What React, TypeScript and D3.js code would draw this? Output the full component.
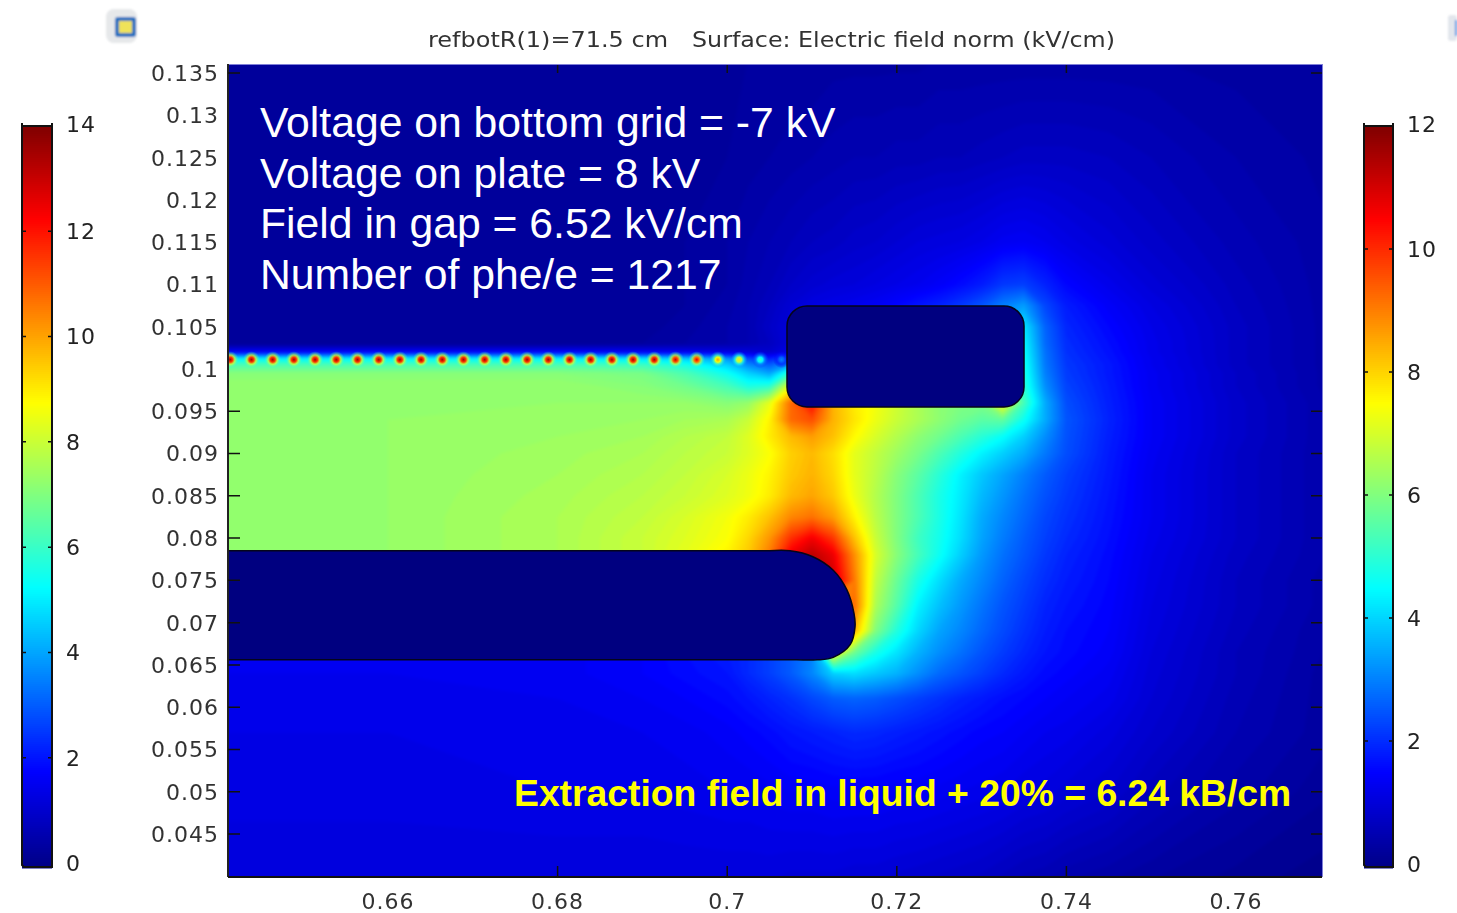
import React, { useMemo } from "react";
import * as d3 from "d3";

const titleLeft = "refbotR(1)=71.5 cm";
const titleRight = "Surface: Electric field norm (kV/cm)";
const noteLines = ["Voltage on bottom grid = -7 kV", "Voltage on plate = 8 kV", "Field in gap = 6.52 kV/cm", "Number of phe/e = 1217"];
const noteYellow = "Extraction field in liquid + 20% = 6.24 kB/cm";

const xTickLabels = [0.66, 0.68, 0.7, 0.72, 0.74, 0.76];
const xTickMarks = [0.68, 0.7, 0.72, 0.74];
const yTickLabels = [0.135, 0.13, 0.125, 0.12, 0.115, 0.11, 0.105, 0.1, 0.095, 0.09, 0.085, 0.08, 0.075, 0.07, 0.065, 0.06, 0.055, 0.05, 0.045];
const yTickMarks = [0.135, 0.095, 0.09, 0.085, 0.08, 0.075, 0.07, 0.065, 0.06, 0.055, 0.05, 0.045];
const leftBarTicks = [0, 2, 4, 6, 8, 10, 12, 14];
const rightBarTicks = [0, 2, 4, 6, 8, 10, 12];

const fieldX = [0.64, 0.66, 0.68, 0.69, 0.695, 0.7, 0.7025, 0.705, 0.7075, 0.71, 0.7125, 0.715, 0.7175, 0.72, 0.7225, 0.725, 0.7275, 0.73, 0.7325, 0.735, 0.7375, 0.74, 0.745, 0.75, 0.76, 0.772];
const fieldY = [0.137, 0.125, 0.115, 0.11, 0.1075, 0.105, 0.103, 0.102, 0.1012, 0.1005, 0.0995, 0.098, 0.096, 0.094, 0.092, 0.09, 0.0875, 0.085, 0.0825, 0.08, 0.078, 0.075, 0.072, 0.069, 0.0665, 0.064, 0.061, 0.057, 0.05, 0.0395];
const fieldValues = [
  [.2,.2,.2,.2,.25,.25,.3,.3,.3,.3,.35,.35,.35,.35,.35,.4,.4,.4,.4,.4,.4,.4,.4,.4,.35,.3],
  [.2,.2,.2,.2,.25,.3,.35,.4,.45,.5,.55,.6,.6,.65,.65,.7,.7,.75,.8,.85,.85,.85,.8,.7,.5,.35],
  [.2,.2,.2,.25,.3,.4,.5,.6,.7,.8,.85,.95,1,1.1,1.2,1.25,1.3,1.4,1.55,1.6,1.5,1.35,1.15,.95,.65,.4],
  [.2,.2,.2,.25,.3,.4,.55,.7,.9,1.05,1.15,1.2,1.3,1.4,1.5,1.65,1.85,2.1,2.5,2.6,2.2,1.8,1.45,1.15,.75,.4],
  [.2,.2,.2,.25,.3,.45,.6,.8,1.1,1.3,1.4,1.5,1.6,1.8,2,2.2,2.5,2.9,3.5,3.9,2.7,2.1,1.65,1.3,.8,.4],
  [.2,.2,.2,.25,.35,.5,.6,.9,1.2,1.4,1.5,1.6,1.8,2,2.4,2.8,3.2,3.6,4.2,4.9,3.1,2.25,1.8,1.4,.85,.4],
  [.2,.2,.2,.3,.4,.5,.6,.8,1.2,1.5,1.6,1.8,2,2.4,2.8,3.2,3.6,4,4.5,5.2,3.2,2.35,1.9,1.45,.85,.4],
  [1.7,1.7,1.7,1.6,1.5,1.3,1.2,1,1.4,1.6,1.8,2,2.2,2.6,3,3.4,3.8,4.2,4.7,5.3,3.3,2.4,1.95,1.45,.85,.4],
  [5.2,5.2,5.2,5,4.6,3.8,2.8,2.2,3,3,3,3,3,3,3.2,3.6,4,4.4,5,5.4,3.35,2.45,2,1.5,.85,.4],
  [6.3,6.3,6.3,6.1,5.6,4.6,3.6,3,4,4,4,4,4,4,4,4,4.2,4.6,5.2,5.5,3.4,2.5,2.05,1.5,.85,.4],
  [7.1,7.1,7.1,6.9,6.3,5.4,4.6,4,6,6,6,6,6,6,6,6,6,6,6,5.6,3.5,2.55,2.05,1.55,.9,.4],
  [7.3,7.3,7.3,7.1,6.8,6.2,5.6,5.8,8.5,9,9,9,8.5,8,7.5,7.2,7,7,7,5.8,3.7,2.65,2.1,1.55,.9,.4],
  [7.3,7.3,7.3,7.3,7.3,7.1,7.3,8.4,10.8,12.2,9.8,9,8.6,8.1,7.6,7.2,7,7,8.8,6.2,4.1,2.8,2.15,1.6,.95,.45],
  [7.3,7.3,7.35,7.4,7.5,7.6,8,8.9,10.8,11.2,9.8,9.1,8.5,8,7.6,7.2,6.8,6.5,6.6,5.4,4.1,2.9,2.2,1.6,.95,.45],
  [7.3,7.3,7.4,7.5,7.7,7.9,8.3,9,9.7,10.1,9.6,8.8,8.2,7.7,7.2,6.8,6.3,5.8,5.3,4.6,3.7,2.85,2.15,1.6,.95,.45],
  [7.3,7.3,7.45,7.6,7.8,8,8.3,8.7,9.4,9.7,9.2,8.4,7.9,7.4,6.9,6.3,5.7,5.1,4.6,4.1,3.4,2.8,2.1,1.55,.9,.45],
  [7.3,7.3,7.5,7.7,7.9,8.2,8.5,8.9,9.5,9.8,9.3,8.4,7.8,7.1,6.5,5.8,5.1,4.5,4,3.5,3,2.6,2.05,1.5,.9,.45],
  [7.3,7.3,7.55,7.8,8,8.3,8.55,9,9.7,10,9.5,8.5,7.7,7,6.3,5.6,5,4.3,3.8,3.3,2.85,2.5,2,1.5,.9,.45],
  [7.3,7.3,7.6,7.9,8.2,8.6,9,9.6,10.4,10.7,10.1,8.9,7.8,7,6.3,5.6,4.9,4.1,3.6,3.15,2.7,2.4,1.95,1.5,.9,.45],
  [7.3,7.3,7.6,8,8.3,8.7,9.3,10.2,11.6,12.4,11.5,9.6,8,7,6.1,5.5,4.8,4,3.45,3,2.6,2.3,1.9,1.45,.9,.45],
  [7.3,7.3,7.6,8,8.4,8.9,9.5,10.6,12.5,13.2,12.5,10.3,8.2,7.1,6.2,5.4,4.6,3.85,3.3,2.9,2.5,2.2,1.85,1.4,.85,.45],
  [7.3,7.3,7.6,8,8.4,8.9,9.5,10.6,12.5,13.2,13,10.6,7.9,6.7,5.6,4.8,4.1,3.6,3.1,2.7,2.35,2.1,1.8,1.35,.8,.4],
  [7,7,7,7,7,7,7,7,7,7,10,10.8,7.6,6.4,5.1,4.4,3.85,3.35,2.9,2.55,2.2,2,1.75,1.3,.8,.4],
  [4,4,4,4,4,4,4,4,4,4,10,9.8,7,5.7,4.7,4,3.6,3.15,2.75,2.4,2.1,1.9,1.7,1.25,.75,.35],
  [1.5,1.5,1.55,1.7,1.9,2.1,2.3,2.6,3,3.5,9,6.8,5.6,4.9,4.2,3.7,3.3,2.9,2.55,2.25,2,1.85,1.65,1.2,.7,.35],
  [1.5,1.5,1.55,1.7,1.85,2,2.3,2.6,3,3.6,4.6,4.8,4.5,4.2,3.7,3.2,2.9,2.6,2.3,2.05,1.85,1.75,1.55,1.15,.7,.3],
  [1.45,1.45,1.5,1.6,1.7,1.85,2,2.2,2.4,2.7,3,3.1,3,2.8,2.6,2.4,2.2,2.05,1.9,1.8,1.7,1.6,1.45,1.1,.65,.3],
  [1.4,1.4,1.45,1.5,1.55,1.65,1.75,1.85,2,2.1,2.2,2.3,2.25,2.15,2.05,1.95,1.85,1.75,1.7,1.6,1.5,1.45,1.25,1,.6,.3],
  [1.35,1.35,1.4,1.4,1.45,1.5,1.5,1.55,1.6,1.6,1.65,1.65,1.65,1.6,1.6,1.55,1.5,1.45,1.4,1.3,1.25,1.15,1,.75,.45,.2],
  [1.2,1.2,1.2,1.2,1.2,1.2,1.2,1.2,1.15,1.15,1.15,1.1,1.1,1.05,1,.95,.9,.85,.75,.65,.6,.5,.4,.3,.15,.02],
];

const wireX = [.6414,.6439,.6464,.6489,.6514,.6539,.6564,.6589,.6614,.6639,.6664,.6689,.6714,.6739,.6764,.6789,.6814,.6839,.6864,.6889,.6914,.6939,.6964,.6989,.7014,.7039,.7064];
const wirePeak = [13.5,13.5,13.5,13.5,13.5,13.5,13.5,13.5,13.5,13.5,13.5,13.5,13.5,13.5,13.5,13.5,13.5,13.5,13.5,13.5,13.5,13,12.5,10,9,6,3.5];
const wireY = 0.1011;

const upperPlate = { x0: 0.70705, x1: 0.735, y0: 0.09551, y1: 0.10745, r: 20 };
const lowerPlateLeft = 0.63;
const lowerPlateTop = 0.0785;
const lowerPlateBottom = 0.0656;
const lowerPlateNose: [number, number][] = [
  [0.705, 0.0785], [0.7074, 0.0785], [0.7101, 0.0778], [0.7125, 0.0762], [0.7141, 0.0739], [0.71495, 0.0711],
  [0.71507, 0.0695], [0.7145, 0.0674], [0.7125, 0.0659], [0.7106, 0.0656], [0.7082, 0.0656],
];

const W = 1457, H = 913;
const plot = { left: 228, right: 1322, top: 65, bottom: 877 };
const x = d3.scaleLinear().domain([0.64113, 0.77014]).range([plot.left, plot.right]);
const y = d3.scaleLinear().domain([0.03992, 0.13595]).range([plot.bottom, plot.top]);
const jet14 = d3.scaleLinear<string>().domain([0, 1.75, 5.25, 8.75, 12.25, 14]).range(["#00008a", "#0000ff", "#00ffff", "#ffff00", "#ff0000", "#800000"]).clamp(true);
const jet12 = d3.scaleLinear<string>().domain([0, 1.5, 4.5, 7.5, 10.5, 12]).range(["#00008a", "#0000ff", "#00ffff", "#ffff00", "#ff0000", "#800000"]).clamp(true);
const barLeftY = d3.scaleLinear().domain([0, 14]).range([863, 126]);
const barRightY = d3.scaleLinear().domain([0, 12]).range([864, 126]);

const FONT = "'DejaVu Sans', sans-serif";
const ARIAL = "'Liberation Sans', Arial, sans-serif";

function Colorbar({ x0, x1, scale, color, ticks, labelX }: any) {
  const top = 126, bottom = 867;
  const steps = d3.range(0, bottom - top, 2);
  const v = d3.scaleLinear().domain([bottom, top]).range([scale.invert(bottom), scale.invert(top)]);
  const maxTick = ticks[ticks.length - 1];
  return (
    <g>
      {steps.map((s) => (
        <rect key={s} x={x0} y={top + s} width={x1 - x0} height={2.5} fill={color(v(top + s))} />
      ))}
      <path d={`M${x0},${top - 3}V${bottom - 2}L${x0 + 2},${bottom}H${x1}V${top - 3}M${x0},${top}H${x1}`} fill="none" stroke="#111" strokeWidth={2} />
      {ticks.slice(1, -1).map((t: number) => (
        <path key={t} d={`M${x0},${scale(t)}h4M${x1},${scale(t)}h-4`} stroke="#111" strokeWidth={1.5} />
      ))}
      <g filter="url(#soft)">
        {ticks.map((t: number) => (
          <text key={t} x={labelX} y={scale(t) - (t === maxTick ? 2 : 0)} dy="0.36em" fontFamily={FONT} fontSize={22} letterSpacing={1} fill="#222">{t}</text>
        ))}
      </g>
    </g>
  );
}

export default function App() {
  const bands = useMemo(() => {
    const n = fieldX.length, m = fieldY.length;
    const grid = fieldValues.flat();
    const xi = d3.scaleLinear().domain(fieldX.map((_, i) => i + 0.5)).range(fieldX.map((d) => x(d)));
    const yi = d3.scaleLinear().domain(fieldY.map((_, i) => i + 0.5)).range(fieldY.map((d) => y(d)));
    const thresholds = d3.range(0, 14, 0.1);
    const gen = d3.contours().size([n, m]).thresholds(thresholds);
    return gen(grid).map((c) => ({
      value: c.value,
      d: c.coordinates
        .map((poly) => poly.map((ring) => "M" + ring.map(([a, b]) => `${xi(a).toFixed(1)},${yi(b).toFixed(1)}`).join("L") + "Z").join(""))
        .join(""),
    }));
  }, []);

  const nose = d3.line<[number, number]>().x((d) => x(d[0])).y((d) => y(d[1])).curve(d3.curveCatmullRom.alpha(0.5))(lowerPlateNose) as string;
  const lowerPath = `M${x(lowerPlateLeft)},${y(lowerPlateTop)}L${nose.slice(1)}L${x(lowerPlateLeft)},${y(lowerPlateBottom)}Z`;

  return (
    <svg width={W} height={H} style={{ position: "absolute", left: 0, top: 0, background: "#fff" }}>
      <defs>
        <clipPath id="plotClip"><rect x={plot.left} y={plot.top} width={plot.right - plot.left} height={plot.bottom - plot.top} /></clipPath>
        <filter id="soft" x="-20%" y="-20%" width="140%" height="140%"><feGaussianBlur stdDeviation={0.65} /></filter>
        <filter id="fieldSoft" x="-5%" y="-5%" width="110%" height="110%" colorInterpolationFilters="sRGB"><feGaussianBlur stdDeviation={1.6} /></filter>
        <filter id="iconSoft" x="-40%" y="-40%" width="180%" height="180%"><feGaussianBlur stdDeviation={1.2} /></filter>
        {wireX.map((_, i) => (
          <radialGradient key={i} id={`wire${i}`}>
            <stop offset="0" stopColor={jet14(wirePeak[i])} />
            <stop offset="0.3" stopColor={jet14(wirePeak[i] * 0.85)} />
            <stop offset="0.55" stopColor={jet14(wirePeak[i] * 0.62)} stopOpacity={0.7} />
            <stop offset="1" stopColor={jet14(wirePeak[i] * 0.42)} stopOpacity={0} />
          </radialGradient>
        ))}
      </defs>

      <g filter="url(#iconSoft)">
        <rect x={106} y={9} width={31} height={34} rx={8} fill="#e6e8ea" />
        <rect x={115} y={17} width={21} height={20} rx={3} fill="#1f6fc0" />
        <rect x={119} y={21} width={13} height={12} fill="#efe35a" />
        <rect x={1448} y={15} width={9} height={26} rx={3} fill="#e2e6ec" />
        <rect x={1455} y={20} width={2} height={16} fill="#4f8fe0" />
      </g>

      <rect x={plot.left} y={plot.top - 1} width={plot.right - plot.left + 1} height={plot.bottom - plot.top + 1} fill="#7f7fd8" />
      <g clipPath="url(#plotClip)">
        <g filter="url(#fieldSoft)">
          <rect x={plot.left - 20} y={plot.top - 20} width={plot.right - plot.left + 40} height={plot.bottom - plot.top + 40} fill={jet14(0)} />
          {bands.map((b) => (
            <path key={b.value} d={b.d} fill={jet14(b.value + 0.05)} />
          ))}
        </g>
        {wireX.map((w, i) => (
          <circle key={i} cx={x(w)} cy={y(wireY)} r={8.5} fill={`url(#wire${i})`} />
        ))}
        <path d={lowerPath} fill="#000080" stroke="#05051a" strokeWidth={1.5} />
        <rect
          x={x(upperPlate.x0)} y={y(upperPlate.y1)}
          width={x(upperPlate.x1) - x(upperPlate.x0)} height={y(upperPlate.y0) - y(upperPlate.y1)}
          rx={upperPlate.r} fill="#000080" stroke="#05051a" strokeWidth={1.5}
        />
      </g>

      <line x1={plot.left} x2={plot.left} y1={plot.top - 1} y2={plot.bottom} stroke="#222" strokeWidth={2} />
      <line x1={plot.left} x2={plot.right} y1={plot.bottom} y2={plot.bottom} stroke="#111" strokeWidth={2} />
      {yTickMarks.map((t) => (
        <path key={t} d={`M${plot.left},${y(t)}h12M${plot.right},${y(t)}h-11`} stroke="#111" strokeWidth={1.5} />
      ))}
      {xTickMarks.map((t) => (
        <path key={t} d={`M${x(t)},${plot.top}v8M${x(t)},${plot.bottom}v-11`} stroke="#111" strokeWidth={1.5} />
      ))}

      <g filter="url(#soft)" fontFamily={FONT} fontSize={22} fill="#333">
        {yTickLabels.map((t) => (
          <text key={t} x={219} y={y(t)} dy="0.36em" textAnchor="end" letterSpacing={1}>{String(t)}</text>
        ))}
        {xTickLabels.map((t) => (
          <text key={t} x={x(t)} y={909} textAnchor="middle" letterSpacing={1}>{String(t)}</text>
        ))}
        <text x={428} y={47} textLength={240} lengthAdjust="spacingAndGlyphs">{titleLeft}</text>
        <text x={692} y={47} textLength={423} lengthAdjust="spacingAndGlyphs">{titleRight}</text>
      </g>

      <Colorbar x0={22} x1={52} scale={barLeftY} color={jet14} ticks={leftBarTicks} labelX={66} />
      <Colorbar x0={1364} x1={1393} scale={barRightY} color={jet12} ticks={rightBarTicks} labelX={1407} />

      <g fontFamily={ARIAL} fontSize={42.7} fill="#fff">
        {noteLines.map((t, i) => (
          <text key={t} x={260} y={[137, 188, 238, 289][i]}>{t}</text>
        ))}
      </g>
      <text x={514} y={806} fontFamily={ARIAL} fontSize={37.3} fontWeight="bold" fill="#ffff00">{noteYellow}</text>
    </svg>
  );
}
